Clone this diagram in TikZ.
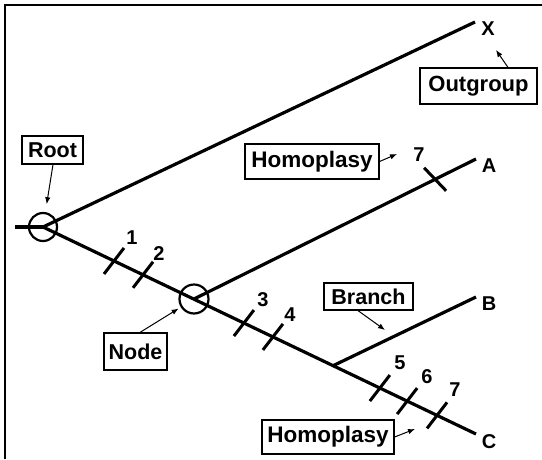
\documentclass[tikz,border=0pt]{standalone}
\usepackage{fontspec}
\setmainfont{Liberation Sans}
\usetikzlibrary{arrows.meta}
\begin{document}
\begin{tikzpicture}[x=1pt,y=-1pt,
  branchline/.style={line width=3.2pt},
  tickmark/.style={line width=3pt},
  ring/.style={circle,draw,line width=2.2pt,inner sep=0pt},
  lbox/.style={draw,line width=1.2pt,inner sep=0pt,font=\fontsize{21.5}{24}\selectfont\bfseries},
  taxon/.style={inner sep=0pt,font=\fontsize{20}{22}\selectfont\bfseries},
  num/.style={inner sep=0pt,font=\fontsize{20}{22}\selectfont\bfseries},
  arr/.style={line width=1pt,-{Latex[length=7pt,width=5.5pt]}}]
\useasboundingbox (0,0) rectangle (542,459);
% frame (cropped on the right and bottom)
\draw[line width=2.5pt] (5,459) -- (5,5) -- (542,5);

% nodes of the tree
\node[ring,minimum size=28pt] (rc) at (43,227) {};
\node[ring,minimum size=29pt] (nc) at (194,299) {};
\coordinate (stub) at (15,227);
\coordinate (xend) at (475,22);
\coordinate (aend) at (476,159);
\coordinate (bend) at (476,297);
\coordinate (cend) at (476,434);
\path (rc.center) -- (cend)
  coordinate[pos=0.164] (t1) coordinate[pos=0.231] (t2)
  coordinate[pos=0.464] (t3) coordinate[pos=0.531] (t4)
  coordinate[pos=0.670] (jn)
  coordinate[pos=0.778] (t5) coordinate[pos=0.841] (t6)
  coordinate[pos=0.910] (t7);
\path (nc.center) -- (aend) coordinate[pos=0.855] (ta);

% branches
\draw[branchline] (stub) -- (rc.center);
\draw[branchline] (rc.center) -- (xend);
\draw[branchline] (rc.center) -- (cend);
\draw[branchline] (nc.center) -- (aend);
\draw[branchline] (jn) -- (bend);

% character ticks
\foreach \t in {t1,t2,t3,t4,t5,t6,t7}
  \draw[tickmark] ([shift={(-10,13)}]\t) -- ([shift={(10,-13)}]\t);
\draw[tickmark] ([shift={(-11,-11.5)}]ta) -- ([shift={(11,11.5)}]ta);

% taxon labels
\node[taxon] (X) at (488,29) {X};
\node[taxon] (A) at (489,166) {A};
\node[taxon] (B) at (489,304) {B};
\node[taxon] (C) at (489,442) {C};

% character numbers
\node[num] (n1) at (132,238) {1};
\node[num] (n2) at (159,254) {2};
\node[num] (n3) at (263,300) {3};
\node[num] (n4) at (290,315) {4};
\node[num] (n5) at (400,363) {5};
\node[num] (n6) at (427,377) {6};
\node[num] (n7) at (455,390) {7};
\node[num] (n7a) at (419,155) {7};

% labelled boxes
\node[lbox,minimum width=61pt,minimum height=28pt] (rootlbl) at (52.5,150) {Root};
\node[lbox,minimum width=63pt,minimum height=37pt] (nodelbl) at (135.5,351.5) {Node};
\node[lbox,minimum width=89pt,minimum height=27pt] (brlbl) at (368.5,296.5) {Branch};
\node[lbox,minimum width=117pt,minimum height=36pt,font=\fontsize{22}{24}\selectfont\bfseries] (oglbl) at (478.5,86) {Outgroup};
\node[lbox,minimum width=134pt,minimum height=35pt,font=\fontsize{22.5}{24}\selectfont\bfseries] (hp1) at (312,161.5) {Homoplasy};
\node[lbox,minimum width=132pt,minimum height=34pt,font=\fontsize{22.5}{24}\selectfont\bfseries] (hp2) at (328,437) {Homoplasy};

% pointer arrows
\coordinate (ogtip) at (496,50);
\coordinate (hp1tip) at (397,154);
\coordinate (hp2tip) at (415,429);
\coordinate (brtip) at (385,330);
\draw[arr,shorten >=8pt] ([xshift=0.5pt]rootlbl.south) -- (rc);
\draw[arr,shorten >=2.5pt] ([xshift=4.5pt]nodelbl.north) -- (nc);
\draw[arr] ([xshift=29.5pt]oglbl.north) -- (ogtip);
\draw[arr] (hp1.east) -- (hp1tip);
\draw[arr] (hp2.east) -- (hp2tip);
\draw[arr] ([xshift=-10.5pt]brlbl.south) -- (brtip);
\end{tikzpicture}
\end{document}
